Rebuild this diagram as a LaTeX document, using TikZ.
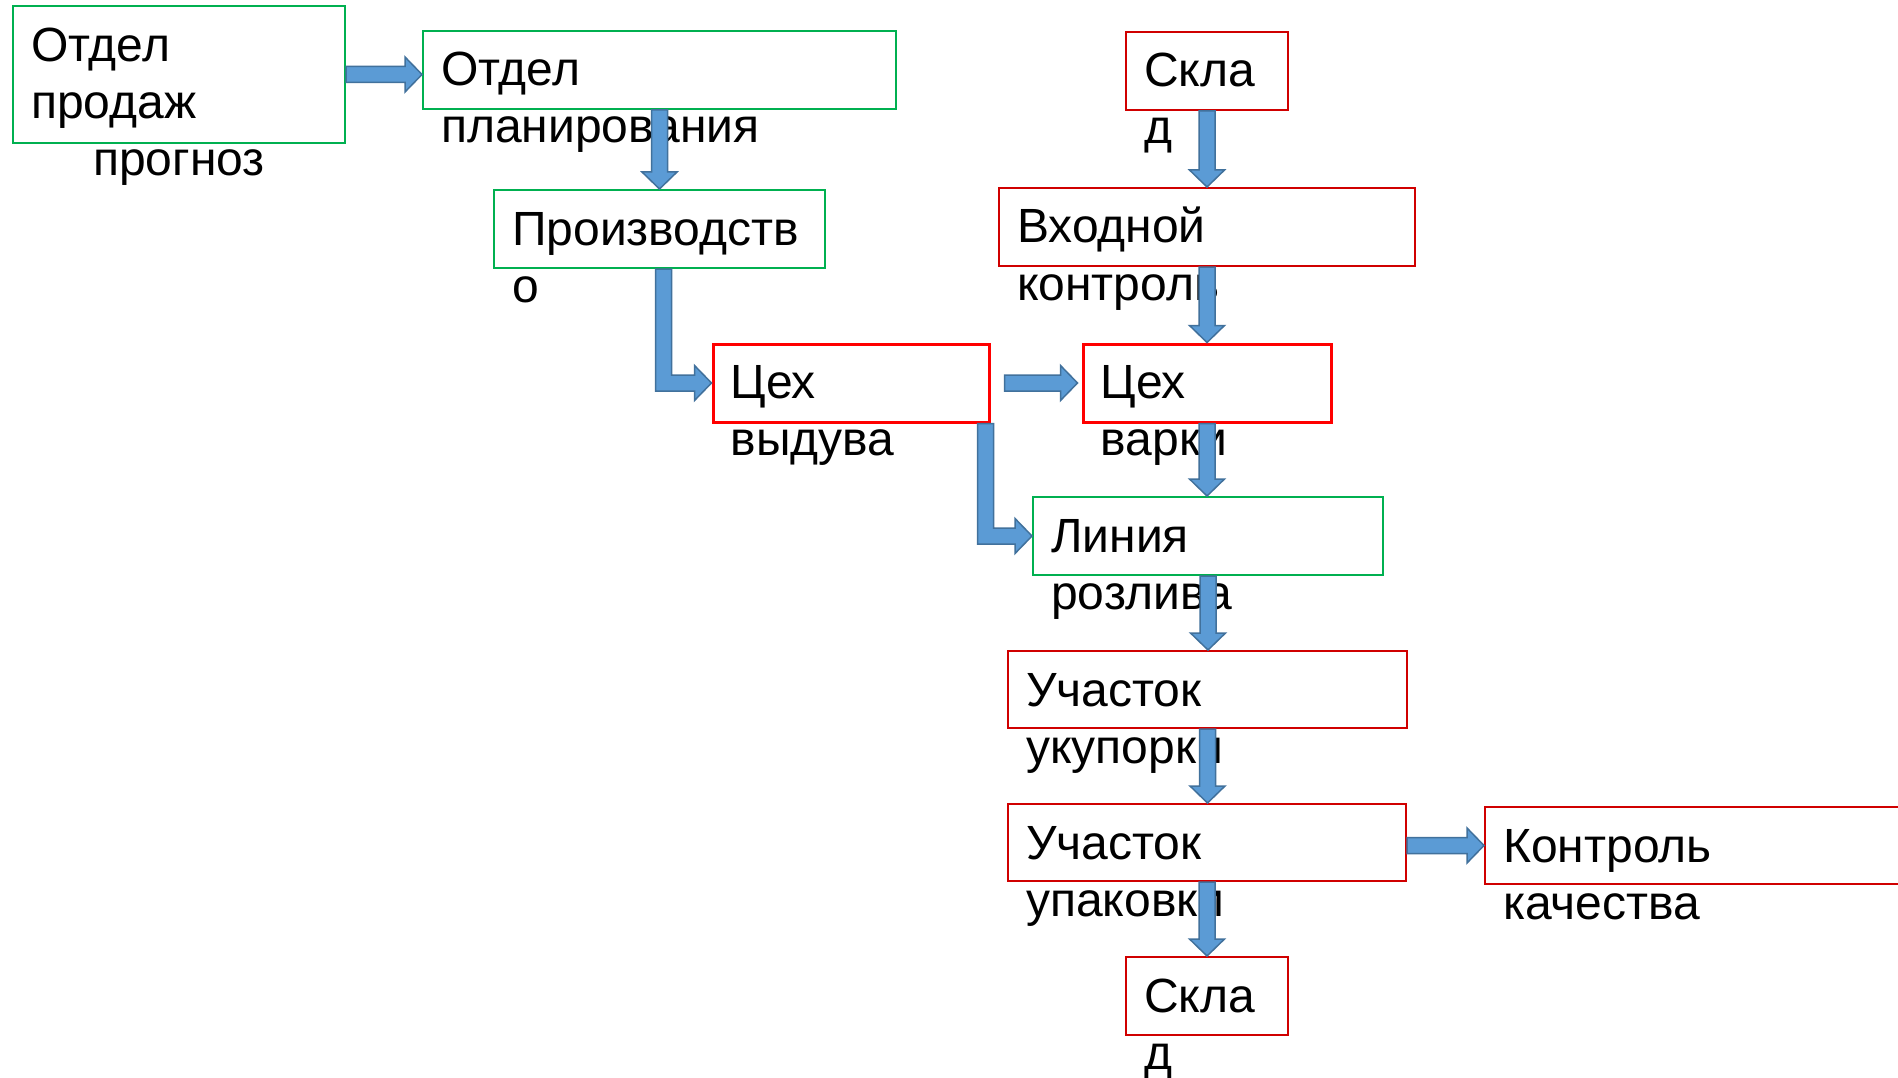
\documentclass[tikz,border=0pt]{standalone}
\usepackage{fontspec}
\setmainfont{Liberation Sans}
\usetikzlibrary{calc}
\definecolor{boxgreen}{HTML}{00B050}
\definecolor{boxred}{HTML}{FF0000}
\definecolor{boxdred}{HTML}{D00000}
\definecolor{arrfill}{HTML}{5B9BD5}
\definecolor{arrline}{HTML}{41719C}
\tikzset{
  gbox/.style={draw=boxgreen, line width=2pt, rectangle, inner sep=0pt, fill=white},
  rbox/.style={draw=boxred, line width=3pt, rectangle, inner sep=0pt, fill=white},
  dbox/.style={draw=boxdred, line width=2pt, rectangle, inner sep=0pt, fill=white},
  lbl/.style={inner sep=0pt, anchor=base west, font=\fontsize{48}{57}\selectfont},
  blockarrow/.style={fill=arrfill, draw=arrline, line width=1.5pt, line join=miter}
}
% right-pointing block arrow: start, tip (same y as start)
\newcommand\rarrow[2]{\path[blockarrow] let \p1=#1, \p2=#2 in
  (\x1,\y1+8pt) -- (\x2-17pt,\y1+8pt) -- (\x2-17pt,\y1+17.5pt) -- (\x2,\y1)
  -- (\x2-17pt,\y1-17.5pt) -- (\x2-17pt,\y1-8pt) -- (\x1,\y1-8pt) -- cycle;}
% down-pointing block arrow: start (top), tip (bottom)
\newcommand\darrow[2]{\path[blockarrow] let \p1=#1, \p2=#2 in
  (\x1-8pt,\y1) -- (\x1-8pt,\y2+17pt) -- (\x1-17.5pt,\y2+17pt) -- (\x1,\y2)
  -- (\x1+17.5pt,\y2+17pt) -- (\x1+8pt,\y2+17pt) -- (\x1+8pt,\y1) -- cycle;}
% elbow block arrow: down from start, then right to tip
\newcommand\earrow[2]{\path[blockarrow] let \p1=#1, \p2=#2 in
  (\x1-8pt,\y1) -- (\x1-8pt,\y2-8pt) -- (\x2-17pt,\y2-8pt) -- (\x2-17pt,\y2-17.5pt)
  -- (\x2,\y2) -- (\x2-17pt,\y2+17.5pt) -- (\x2-17pt,\y2+8pt) -- (\x1+8pt,\y2+8pt)
  -- (\x1+8pt,\y1) -- cycle;}
\begin{document}
\begin{tikzpicture}[x=1pt,y=-1pt]
\clip (0,0) rectangle (1898,1078);
\fill[white] (0,0) rectangle (1898,1078);
% boxes
\node[gbox, minimum width=332pt, minimum height=137pt] (b1) at (179,74.5) {};
\node[gbox, minimum width=473pt, minimum height=78pt] (b2) at (659.5,70) {};
\node[gbox, minimum width=331pt, minimum height=78pt] (b3) at (659.5,229) {};
\node[rbox, minimum width=276pt, minimum height=78pt] (b4) at (851,383) {};
\node[dbox, minimum width=162pt, minimum height=78pt] (b5) at (1207,71) {};
\node[dbox, minimum width=416pt, minimum height=78pt] (b6) at (1207,227) {};
\node[rbox, minimum width=248pt, minimum height=78pt] (b7) at (1207,383) {};
\node[gbox, minimum width=350pt, minimum height=78pt] (b8) at (1208,536) {};
\node[dbox, minimum width=399pt, minimum height=77pt] (b9) at (1207.5,689.5) {};
\node[dbox, minimum width=398pt, minimum height=77pt] (b10) at (1207,842.5) {};
\node[dbox, minimum width=465pt, minimum height=77pt] (b11) at (1717.5,845.5) {};
\node[dbox, minimum width=162pt, minimum height=78pt] (b12) at (1207,996) {};
% labels
\node[lbl] (t1a) at ($(b1.north west)+(19,57)$) {Отдел};
\node[lbl] (t1b) at ($(b1.north west)+(19,114)$) {продаж};
\node[lbl, anchor=base] (t1c) at ($(b1.north)+(0,171)$) {прогноз};
\node[lbl] (t2a) at ($(b2.north west)+(19,56)$) {Отдел};
\node[lbl] (t2b) at ($(b2.north west)+(19,113)$) {планирования};
\node[lbl] (t3a) at ($(b3.north west)+(19,56)$) {Производств};
\node[lbl] (t3b) at ($(b3.north west)+(19,113)$) {о};
\node[lbl] (t4a) at ($(b4.north west)+(19,56)$) {Цех};
\node[lbl] (t4b) at ($(b4.north west)+(19,113)$) {выдува};
\node[lbl] (t5a) at ($(b5.north west)+(19,56)$) {Скла};
\node[lbl] (t5b) at ($(b5.north west)+(19,113)$) {д};
\node[lbl] (t6a) at ($(b6.north west)+(19,56)$) {Входной};
\node[lbl] (t6b) at ($(b6.north west)+(19,113)$) {контроль};
\node[lbl] (t7a) at ($(b7.north west)+(19,56)$) {Цех};
\node[lbl] (t7b) at ($(b7.north west)+(19,113)$) {варки};
\node[lbl] (t8a) at ($(b8.north west)+(19,56)$) {Линия};
\node[lbl] (t8b) at ($(b8.north west)+(19,113)$) {розлива};
\node[lbl] (t9a) at ($(b9.north west)+(19,56)$) {Участок};
\node[lbl] (t9b) at ($(b9.north west)+(19,113)$) {укупорки};
\node[lbl] (t10a) at ($(b10.north west)+(19,56)$) {Участок};
\node[lbl] (t10b) at ($(b10.north west)+(19,113)$) {упаковки};
\node[lbl] (t11a) at ($(b11.north west)+(19,56)$) {Контроль};
\node[lbl] (t11b) at ($(b11.north west)+(19,113)$) {качества};
\node[lbl] (t12a) at ($(b12.north west)+(19,56)$) {Скла};
\node[lbl] (t12b) at ($(b12.north west)+(19,113)$) {д};
% arrows
\rarrow{(b1.east)}{(b2.west |- b1.east)}
\darrow{(b2.south)}{(b3.north)}
\earrow{($(b3.south)+(4,0)$)}{(b4.west)}
\rarrow{($(b4.east)+(14,0)$)}{($(b7.west)+(-4,0)$)}
\earrow{($(b4.south east)+(-5,0)$)}{(b8.west)}
\darrow{(b5.south)}{(b6.north)}
\darrow{(b6.south)}{(b7.north)}
\darrow{(b7.south)}{(b8.north)}
\darrow{(b8.south)}{(b9.north)}
\darrow{(b9.south)}{(b10.north)}
\rarrow{(b10.east |- b11.west)}{(b11.west)}
\darrow{(b10.south)}{(b12.north)}
\end{tikzpicture}
\end{document}
